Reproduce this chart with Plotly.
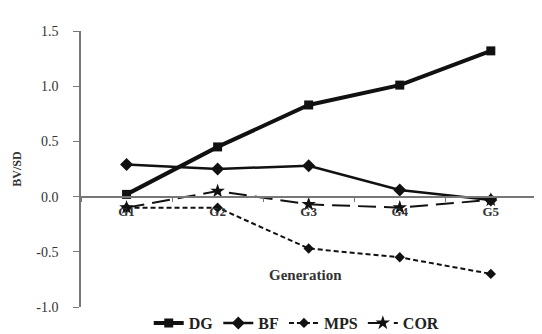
import plotly.graph_objects as go

generations = ["G1", "G2", "G3", "G4", "G5"]
dg = [0.02, 0.45, 0.83, 1.01, 1.32]
bf = [0.29, 0.25, 0.28, 0.06, -0.03]
mps = [-0.10, -0.10, -0.47, -0.55, -0.70]
cor = [-0.10, 0.05, -0.07, -0.10, -0.03]
y_ticks = [-1.0, -0.5, 0.0, 0.5, 1.0, 1.5]

FONT = "Liberation Serif"
fig = go.Figure()
fig.add_trace(go.Scatter(x=generations, y=dg, name="DG", mode="lines+markers",
                         line=dict(color="#111", width=4),
                         marker=dict(symbol="square", size=9, color="#111")))
fig.add_trace(go.Scatter(x=generations, y=bf, name="BF", mode="lines+markers",
                         line=dict(color="#111", width=2.5),
                         marker=dict(symbol="diamond", size=10, color="#111")))
fig.add_trace(go.Scatter(x=generations, y=mps, name="MPS", mode="lines+markers",
                         line=dict(color="#111", width=2, dash="5px,3px"),
                         marker=dict(symbol="diamond", size=8, color="#111")))
fig.add_trace(go.Scatter(x=generations, y=cor, name="COR", mode="lines+markers",
                         line=dict(color="#111", width=2, dash="18px,8px"),
                         marker=dict(symbol="star", size=11, color="#111")))

fig.update_layout(
    width=534, height=326,
    margin=dict(l=73, r=2, t=23, b=27, autoexpand=False),
    paper_bgcolor="white", plot_bgcolor="white",
    font=dict(family=FONT, color="#222", size=12),
    showlegend=True,
    legend=dict(orientation="h", x=0.47, xanchor="center", y=-0.058, yanchor="middle",
                font=dict(family=FONT, size=16, color="#222"),
                itemwidth=30, tracegroupgap=0, bgcolor="rgba(0,0,0,0)"),
    xaxis=dict(type="category", range=[-0.5, 4.54], anchor="free", position=0.4,
               showline=True, linecolor="#777", linewidth=1.5,
               ticks="outside", ticklen=5, tickcolor="#777", tickson="boundaries",
               showgrid=False, zeroline=False, ticklabelstandoff=3,
               tickfont=dict(family=FONT, size=13, color="#333")),
    yaxis=dict(range=[-1.0, 1.5], tickvals=y_ticks, ticktext=[f"{v:.1f}" for v in y_ticks],
               showline=True, linecolor="#777", linewidth=1.5,
               ticks="outside", ticklen=6, tickcolor="#777",
               showgrid=False, zeroline=False, ticklabelstandoff=12,
               tickfont=dict(family=FONT, size=14, color="#333"),
               title=dict(text="<b>BV/SD</b>", font=dict(family=FONT, size=12, color="#333"), standoff=12)),
)
fig.update_xaxes(tickprefix="<b>", ticksuffix="</b>")
fig.update_yaxes(tickprefix="<b>", ticksuffix="</b>")
fig.for_each_trace(lambda t: t.update(name=f"<b>{t.name}</b>"))
fig.add_annotation(text="<b>Generation</b>", x=0.49, y=0.08, xref="paper", yref="paper",
                   showarrow=False, font=dict(family=FONT, size=15, color="#333"))
fig.write_html("out.html")
